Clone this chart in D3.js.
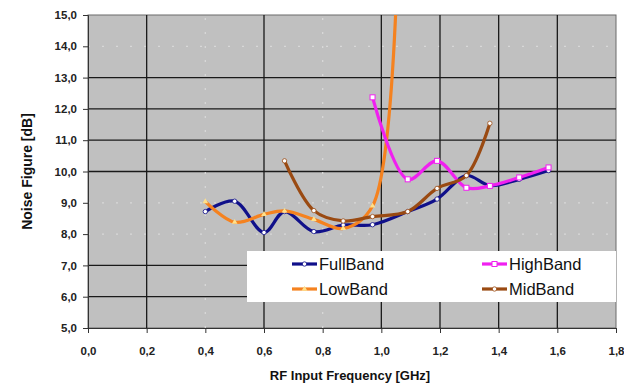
<!DOCTYPE html>
<html>
<head>
<meta charset="utf-8">
<script src="https://cdn.jsdelivr.net/npm/d3@7"></script>
<style>
  body { margin: 0; background: #fff; }
  text { font-family: "Liberation Sans", Arial, sans-serif; }
</style>
</head>
<body>
<div id="chart"></div>
<script>
// data
const fullX = [0.40, 0.50, 0.60, 0.67, 0.77, 0.87, 0.97, 1.09, 1.19, 1.29, 1.37, 1.47, 1.57];
const fullY = [8.72, 9.05, 8.05, 8.72, 8.08, 8.29, 8.30, 8.72, 9.12, 9.87, 9.55, 9.75, 10.03];
const lowX = [0.40, 0.50, 0.60, 0.67, 0.77, 0.87, 0.97, 1.06];
const lowY = [9.04, 8.38, 8.63, 8.74, 8.47, 8.18, 8.90, 18.5];
const midX = [0.67, 0.77, 0.87, 0.97, 1.09, 1.19, 1.29, 1.37];
const midY = [10.34, 8.75, 8.42, 8.56, 8.72, 9.46, 9.87, 11.54];
const highX = [0.97, 1.09, 1.19, 1.29, 1.37, 1.47, 1.57];
const highY = [12.37, 9.75, 10.34, 9.48, 9.54, 9.81, 10.13];

const xTicks = [0, 0.2, 0.4, 0.6, 0.8, 1.0, 1.2, 1.4, 1.6, 1.8];
const yTicks = [5, 6, 7, 8, 9, 10, 11, 12, 13, 14, 15];
// gridlines that came out faint in the scan
const faintX = [0.4, 0.8];
const faintY = [8, 9, 14];

const w = 624, h = 387;
const margin = {top: 15, right: 8, bottom: 59, left: 88};

const svg = d3.select('#chart').append('svg')
  .attr('width', w)
  .attr('height', h);

const x = d3.scaleLinear().domain([0, 1.8]).range([margin.left, w - margin.right]);
const y = d3.scaleLinear().domain([5, 15]).range([h - margin.bottom, margin.top]);

const fmt = d => d3.format('.1f')(d).replace('.', ',');

// plot area
svg.append('rect')
  .attr('x', x(0)).attr('y', y(15))
  .attr('width', x(1.8) - x(0)).attr('height', y(5) - y(15))
  .attr('fill', '#c0c0c0')
  .attr('stroke', '#6a6a6a');

// gridlines
svg.append('g').selectAll('line')
  .data(yTicks.filter(d => d > 5 && d < 15))
  .join('line')
  .attr('x1', x(0)).attr('x2', x(1.8))
  .attr('y1', d => y(d)).attr('y2', d => y(d))
  .attr('stroke', d => faintY.includes(d) ? '#d8d8d8' : '#1a1a1a')
  .attr('stroke-dasharray', d => faintY.includes(d) ? '2,12' : null)
  .attr('stroke-width', 1.3);

svg.append('g').selectAll('line')
  .data(xTicks.filter(d => d > 0 && d < 1.8))
  .join('line')
  .attr('y1', y(5)).attr('y2', y(15))
  .attr('x1', d => x(d)).attr('x2', d => x(d))
  .attr('stroke', d => faintX.some(f => Math.abs(f - d) < 1e-6) ? '#d8d8d8' : '#1a1a1a')
  .attr('stroke-dasharray', d => faintX.some(f => Math.abs(f - d) < 1e-6) ? '2,12' : null)
  .attr('stroke-width', 1.3);

// axes
const xAxis = d3.axisBottom(x).tickValues(xTicks).tickFormat(fmt).tickSize(5).tickPadding(14);
const yAxis = d3.axisLeft(y).tickValues(yTicks).tickFormat(fmt).tickSize(5).tickPadding(6);

const gx = svg.append('g')
  .attr('transform', 'translate(0,' + y(5) + ')')
  .call(xAxis);
const gy = svg.append('g')
  .attr('transform', 'translate(' + x(0) + ',0)')
  .call(yAxis);

[gx, gy].forEach(g => {
  g.select('.domain').attr('stroke', '#333');
  g.selectAll('.tick line').attr('stroke', '#333');
  g.selectAll('.tick text')
    .attr('fill', '#222')
    .style('font-size', '11.5px')
    .style('font-weight', 'bold')
    .style('font-family', '"Liberation Sans", Arial, sans-serif');
});

// series
const series = [
  {name: 'FullBand', xs: fullX, ys: fullY, color: '#10108a', marker: 'circle'},
  {name: 'LowBand', xs: lowX, ys: lowY, color: '#f5821f', marker: 'triangle'},
  {name: 'HighBand', xs: highX, ys: highY, color: '#f020f0', marker: 'square'},
  {name: 'MidBand', xs: midX, ys: midY, color: '#9a4a12', marker: 'circle'}
];

svg.append('clipPath').attr('id', 'clip')
  .append('rect')
  .attr('x', x(0)).attr('y', y(15))
  .attr('width', x(1.8) - x(0)).attr('height', y(5) - y(15));

const line = d3.line()
  .x(d => x(d[0]))
  .y(d => y(d[1]))
  .curve(d3.curveCatmullRom.alpha(0.5));

const plot = svg.append('g').attr('clip-path', 'url(#clip)');

function drawMarker(g, type, color, cx, cy) {
  if (type === 'square') {
    g.append('rect').attr('x', cx - 2.5).attr('y', cy - 2.5).attr('width', 5).attr('height', 5)
      .attr('fill', '#fff').attr('stroke', color).attr('stroke-width', 1);
  } else if (type === 'triangle') {
    g.append('path')
      .attr('d', d3.symbol(d3.symbolTriangle, 14)())
      .attr('transform', 'translate(' + cx + ',' + cy + ')')
      .attr('fill', '#ffe08a');
  } else {
    g.append('circle').attr('cx', cx).attr('cy', cy).attr('r', 2.2)
      .attr('fill', '#fff').attr('stroke', color).attr('stroke-width', 0.8);
  }
}

series.forEach(s => {
  const pts = s.xs.map((v, i) => [v, s.ys[i]]);
  plot.append('path')
    .datum(pts)
    .attr('d', line)
    .attr('fill', 'none')
    .attr('stroke', s.color)
    .attr('stroke-width', 3.2)
    .attr('stroke-linejoin', 'round');
  const mg = plot.append('g');
  pts.forEach(p => drawMarker(mg, s.marker, s.color, x(p[0]), y(p[1])));
});

// legend
const legend = svg.append('g');
legend.append('rect')
  .attr('x', 247).attr('y', 251)
  .attr('width', x(1.8) - 247).attr('height', 51)
  .attr('fill', '#fff');

const legendPos = [
  {s: series[0], lx: 292, ly: 264},
  {s: series[2], lx: 482, ly: 264},
  {s: series[1], lx: 292, ly: 289},
  {s: series[3], lx: 482, ly: 289}
];
legendPos.forEach(p => {
  legend.append('line')
    .attr('x1', p.lx).attr('x2', p.lx + 25)
    .attr('y1', p.ly).attr('y2', p.ly)
    .attr('stroke', p.s.color).attr('stroke-width', 3.2);
  drawMarker(legend, p.s.marker, p.s.color, p.lx + 12.5, p.ly);
  legend.append('text')
    .attr('x', p.lx + 27).attr('y', p.ly + 6)
    .style('font-size', '16.5px')
    .attr('fill', '#111')
    .text(p.s.name);
});

// axis titles
svg.append('text')
  .attr('x', (x(0) + x(1.8)) / 2 - 2).attr('y', 380)
  .attr('text-anchor', 'middle')
  .style('font-size', '13px').style('font-weight', 'bold')
  .attr('fill', '#111')
  .text('RF Input Frequency  [GHz]');

svg.append('text')
  .attr('transform', 'translate(32,' + y(10) + ') rotate(-90)')
  .attr('text-anchor', 'middle')
  .style('font-size', '14px').style('font-weight', 'bold')
  .attr('fill', '#111')
  .text('Noise Figure [dB]');
</script>
</body>
</html>
